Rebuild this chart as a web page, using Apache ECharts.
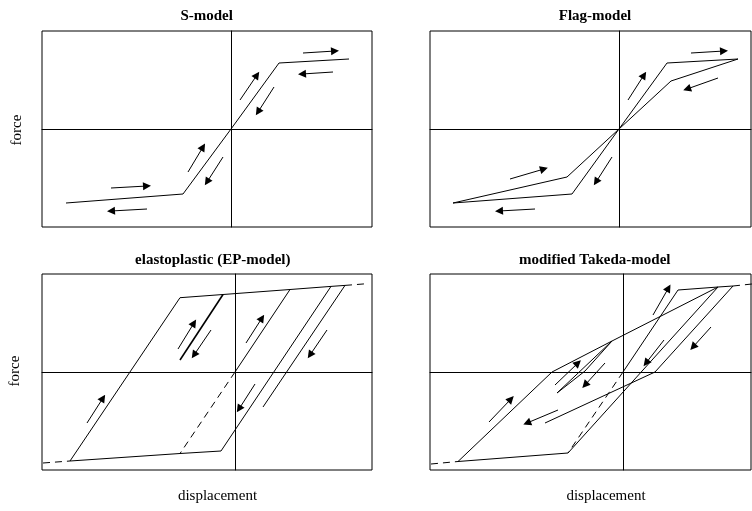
<!DOCTYPE html>
<html><head><meta charset="utf-8">
<script src="https://cdn.jsdelivr.net/npm/echarts@6/dist/echarts.min.js"></script>
<style>html,body{margin:0;padding:0;background:#fff}#c{width:752px;height:511px}</style>
</head><body><div id="c"></div>
<script>
// ---- texts ----
const titles = ['S-model', 'Flag-model', 'elastoplastic (EP-model)', 'modified Takeda-model'];
const yLabel = 'force';
const xLabel = 'displacement';

// ---- axis extents per panel (displacement, force; origin at 0) ----
const xRanges = [[-189, 141], [-189, 132], [-193, 137], [-193, 128]];
const yRanges = [[-98, 98], [-98, 98], [-98, 98], [-98, 98]];

// ---- S-model ----
const sCurve = [[-165, -74], [-48, -65], [0, 0], [48, 66], [118, 70]];
const sArrows = [[[72, 76], [104, 78]], [[102, 57], [71, 55]], [[9, 29], [26, 54]], [[43, 42], [27, 17]],
  [[-43, -43], [-28, -18]], [[-8, -28], [-24, -53]], [[-120, -59], [-84, -57]], [[-84, -80], [-120, -82]]];

// ---- Flag-model ----
const flagCurve = [[-166, -74], [-52, -48], [0, 0], [48, 66], [119, 70], [52, 48], [0, 0], [-47, -65], [-166, -74]];
const flagArrows = [[[72, 76], [105, 78]], [[99, 51], [68, 40]], [[9, 29], [25, 54]], [[-7, -28], [-23, -53]],
  [[-109, -50], [-75, -40]], [[-84, -80], [-120, -82]]];

// ---- EP-model ----
const epLoop = [[-165, -89], [-55, 74.3], [-12, 77.5], [55, 82.5], [96, 85.6], [110, 86.6]];
const epTopDash = [[110, 86.6], [132, 88.3]];
const epLeftDash = [[-192, -91], [-165, -89]];
const epBottom = [[-165, -89], [-55, -81.5], [-14, -79]];
const epUnloadBold = [[-12, 77.5], [-55, 12]];
const epReload1 = [[55, 82.5], [0, 0]];
const epReload1Dash = [[0, 0], [-55, -81.5]];
const epReload2 = [[-14, -79], [96, 85.6]];
const epUnload2 = [[110, 86.6], [28, -35]];
const epArrows = [[[-148, -51], [-132, -26]], [[-57, 23], [-41, 49]], [[-24, 42], [-41, 17]],
  [[11, 29], [27, 54]], [[20, -12], [4, -37]], [[92, 42], [75, 17]]];

// ---- modified Takeda-model ----
const tkMain = [[-165, -89.5], [-71, 0], [-11, 31], [95, 85]];
const tkTop = [[55, 82], [95, 85], [110, 86]];
const tkTopDash = [[110, 86], [129, 88]];
const tkLeftDash = [[-192, -92], [-165, -89.5]];
const tkBottom = [[-165, -89.5], [-55, -81]];
const tkUnload1 = [[55, 82], [0, 0]];
const tkUnload1Dash = [[0, 0], [-55, -81]];
const tkReload = [[-55, -81], [95, 85]];
const tkUnload2 = [[110, 86], [32, 0], [-78, -51]];
const tkInner = [[-11, 31], [-66, -21], [-38, 1], [-11, 31]];
const tkArrows = [[[-134, -50], [-112, -27]], [[-68, -13], [-45, 9]], [[-18, 9], [-38, -13]],
  [[-65, -38], [-96, -51]], [[30, 57], [45.5, 84]], [[41, 32], [23, 9]], [[88, 45], [70, 25]]];

// ---- build ----
const grids = [
  { left: 42, top: 31, width: 330, height: 196 },
  { left: 430, top: 31, width: 321, height: 196 },
  { left: 42, top: 274, width: 330, height: 196 },
  { left: 430, top: 274, width: 321, height: 196 }
].map(g => Object.assign(g, { show: true, borderColor: '#000', borderWidth: 1, backgroundColor: 'transparent' }));

function axis(i, r) {
  return {
    gridIndex: i, type: 'value', min: r[0], max: r[1],
    axisLine: { show: true, onZero: true, lineStyle: { color: '#000', width: 1 } },
    axisTick: { show: false }, axisLabel: { show: false }, splitLine: { show: false }
  };
}
const series = [];
function line(i, data, opt) {
  opt = opt || {};
  series.push({
    type: 'line', xAxisIndex: i, yAxisIndex: i, data: data, symbol: 'none', showSymbol: false,
    silent: true, animation: false, z: 3,
    lineStyle: { color: '#000', width: opt.width || 1, type: opt.dash ? [7, 5] : 'solid' }
  });
}
function arrows(i, list) {
  series.push({
    type: 'lines', coordinateSystem: 'cartesian2d', xAxisIndex: i, yAxisIndex: i,
    symbol: ['none', 'triangle'], symbolSize: [0, 8], silent: true, animation: false, z: 4,
    lineStyle: { color: '#000', width: 1, opacity: 1, curveness: 0 },
    data: list.map(a => ({ coords: a }))
  });
}
line(0, sCurve); arrows(0, sArrows);
line(1, flagCurve); arrows(1, flagArrows);
line(2, epLoop); line(2, epTopDash, { dash: 1 }); line(2, epLeftDash, { dash: 1 });
line(2, epBottom); line(2, epUnloadBold, { width: 1.6 }); line(2, epReload1);
line(2, epReload1Dash, { dash: 1 }); line(2, epReload2); line(2, epUnload2); arrows(2, epArrows);
line(3, tkMain); line(3, tkTop); line(3, tkTopDash, { dash: 1 }); line(3, tkLeftDash, { dash: 1 });
line(3, tkBottom); line(3, tkUnload1); line(3, tkUnload1Dash, { dash: 1 }); line(3, tkReload);
line(3, tkUnload2); line(3, tkInner); arrows(3, tkArrows);

const serif = '"Liberation Serif", "DejaVu Serif", serif';
function txt(t, x, y, bold, rot) {
  return {
    type: 'text', x: x, y: y, rotation: rot || 0, silent: true,
    style: {
      text: t, x: 0, y: 0, fill: '#000',
      font: (bold ? 'bold ' : '') + '15px ' + serif,
      align: 'center', verticalAlign: 'middle', textAlign: 'center', textVerticalAlign: 'middle'
    }
  };
}
const graphic = [
  txt(titles[0], 206.7, 15.7, true), txt(titles[1], 595, 15.7, true),
  txt(titles[2], 212.8, 260, true), txt(titles[3], 594.7, 260, true),
  txt(yLabel, 17, 130, false, Math.PI / 2), txt(yLabel, 15, 371, false, Math.PI / 2),
  txt(xLabel, 217.5, 496, false), txt(xLabel, 606, 496, false)
];

const chart = echarts.init(document.getElementById('c'), null, { renderer: 'canvas' });
chart.setOption({
  animation: false,
  backgroundColor: '#fff',
  grid: grids,
  xAxis: xRanges.map((r, i) => axis(i, r)),
  yAxis: yRanges.map((r, i) => axis(i, r)),
  series: series,
  graphic: graphic
});
</script></body></html>
